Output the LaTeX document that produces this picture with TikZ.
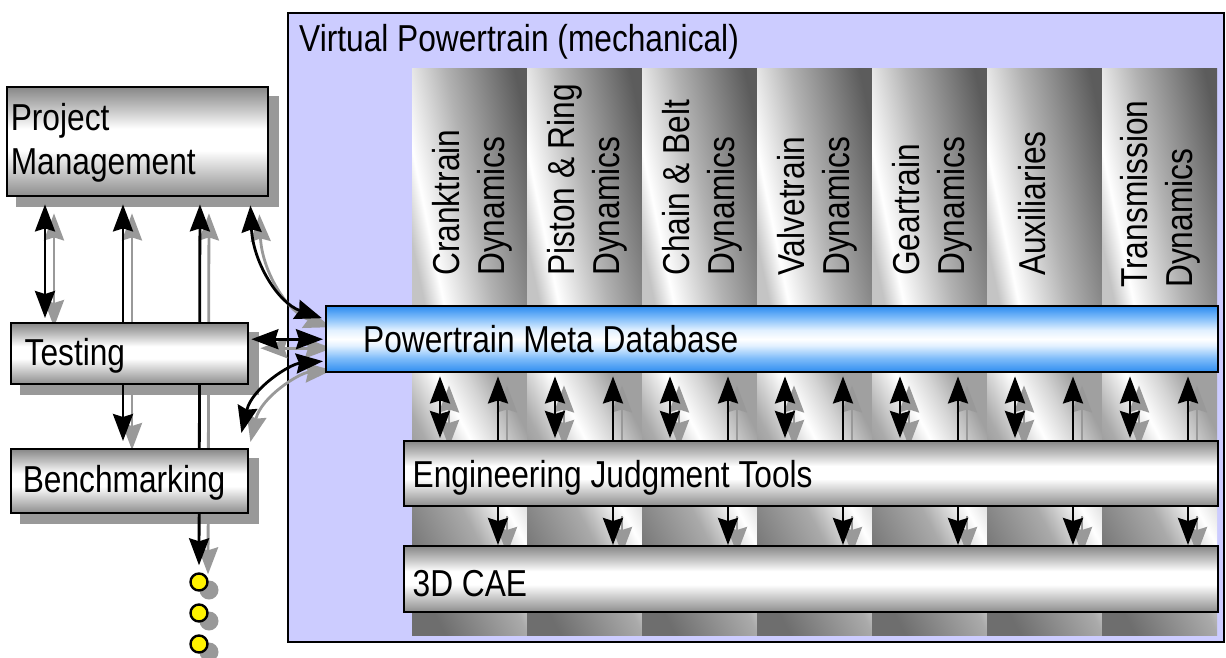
\documentclass[tikz,border=0pt]{standalone}
\usepackage{fontspec}
\setmainfont{Liberation Sans}[FakeStretch=0.845]
\usetikzlibrary{arrows.meta,calc}

% colours
\definecolor{framefill}{RGB}{204,204,255}
\definecolor{shadowgray}{RGB}{153,153,153}
\definecolor{cu0}{RGB}{196,196,196}
\definecolor{cu1}{RGB}{178,178,178}
\definecolor{cu2}{RGB}{92,92,92}
\definecolor{cl0}{RGB}{110,110,110}
\definecolor{cl1}{RGB}{170,170,170}
\definecolor{cl2}{RGB}{212,212,212}
\definecolor{cl3}{RGB}{160,160,160}
\definecolor{bb0}{RGB}{140,140,140}
\definecolor{bb1}{RGB}{190,190,190}
\definecolor{bb2}{RGB}{200,200,200}
\definecolor{bb3}{RGB}{136,136,136}
\definecolor{db0}{RGB}{45,140,240}
\definecolor{db1}{RGB}{130,190,250}
\definecolor{db2}{RGB}{225,240,255}

% column and bar shadings (inner 25bp..75bp spans the shaded box)
\pgfdeclarehorizontalshading{colupper}{100bp}{color(0bp)=(cu0); color(25bp)=(cu0); color(32bp)=(white); color(50bp)=(cu1); color(75bp)=(cu2); color(100bp)=(cu2)}
\pgfdeclarehorizontalshading{collower}{100bp}{color(0bp)=(cl0); color(25bp)=(cl0); color(47bp)=(cl1); color(59bp)=(white); color(67bp)=(cl2); color(75bp)=(cl3); color(100bp)=(cl3)}
\pgfdeclareverticalshading{barshade}{100bp}{color(0bp)=(bb0); color(25bp)=(bb0); color(36bp)=(bb2); color(46bp)=(white); color(56bp)=(white); color(66bp)=(bb1); color(75bp)=(bb3); color(100bp)=(bb3)}
\pgfdeclareverticalshading{dbshade}{100bp}{color(0bp)=(db0); color(25bp)=(db0); color(36bp)=(db1); color(45bp)=(db2); color(50bp)=(white); color(57bp)=(db2); color(66bp)=(db1); color(75bp)=(db0); color(100bp)=(db0)}

\pgfdeclarelayer{bg}
\pgfdeclarelayer{shadow}
\pgfdeclarelayer{links}
\pgfsetlayers{bg,shadow,links,main}

\tikzset{
  txt/.style={font=\fontsize{37.5}{45}\selectfont, inner sep=0pt, anchor=base west},
  vtxt/.style={txt, rotate=90},
  colbox/.style={shade, draw=none, minimum width=115pt, inner sep=0pt, outer sep=0pt, anchor=north west},
  bar/.style={shade, shading=barshade, draw=black, line width=2.4pt, inner sep=0pt, anchor=north west},
  dot/.style={circle, draw=black, fill=yellow, line width=2.4pt, minimum size=17pt, inner sep=0pt},
  link/.style={draw=black, line width=2.8pt},
  lshadow/.style={draw=shadowgray, line width=2.8pt, transform canvas={shift={(9,9)}}},
  both/.style={arrows={Stealth[length=27pt,width=20pt,inset=3pt]-Stealth[length=27pt,width=20pt,inset=3pt]}},
  fwd/.style={arrows={-Stealth[length=27pt,width=20pt,inset=3pt]}},
}

% all connectors, drawn once as shadow and once in black
\newcommand\drawlinks[1]{%
  \draw[#1,both,shorten <=7pt,shorten >=4pt] (pm.south -| xa) -- (test.north -| xa);
  \draw[#1,both,shorten <=7pt,shorten >=7pt] (pm.south -| xb) -- (bench.north -| xb);
  \draw[#1,both,shorten <=7pt,shorten >=7pt] (pm.south -| xc) -- (d1.north);
  \draw[#1,both] ($(pm.south east)+(-19,8)$) .. controls (253,262) and (278,303) .. ($(db.west)+(-3,-21)$);
  \draw[#1,both,shorten <=2pt,shorten >=2pt] (test.east |- db.west) -- (db.west);
  \draw[#1,both] ($(db.west)+(-2,22)$) .. controls (290,364) and (252,388) .. ($(bench.north east)+(-8,-15)$);
  \foreach \k in {0,...,6}{
    \draw[#1,both,shorten <=3pt,shorten >=2pt] (db.south -| pa\k) -- (ejt.north -| pa\k);
    \draw[#1,fwd,shorten >=3pt] (ejt.north -| pb\k) -- (db.south -| pb\k);
    \draw[#1,fwd] (ejt.south -| pb\k) -- (cae.north -| pb\k);
  }%
}

\begin{document}
\begin{tikzpicture}[x=1pt,y=-1pt]
\useasboundingbox (0,0) rectangle (1226,657);

% frame and shaded columns
\begin{pgfonlayer}{bg}
  \node[draw, line width=2.4pt, fill=framefill, minimum width=936pt, minimum height=629pt,
        anchor=north west, inner sep=0pt] (frame) at (287,12) {};
  \foreach \k in {0,...,6}{
    \node[colbox, minimum height=238pt, shading=colupper, shading angle=11.6] (up\k) at (412+115*\k,68) {};
    \node[colbox, minimum height=266pt, shading=collower, shading angle=27.8] (lo\k) at (412+115*\k,369) {};
  }
\end{pgfonlayer}

% boxes
\node[bar, minimum width=261pt, minimum height=109pt] (pm) at (6,86) {};
\node[bar, minimum width=237pt, minimum height=61pt] (test) at (10,322) {};
\node[bar, minimum width=237pt, minimum height=64pt] (bench) at (10,448) {};
\node[bar, shading=dbshade, minimum width=892pt, minimum height=66pt] (db) at (325,305) {};
\node[bar, minimum width=814pt, minimum height=65pt] (ejt) at (403,440) {};
\node[bar, minimum width=814pt, minimum height=66pt] (cae) at (403,545) {};

\node[dot] (d1) at (199,582) {};
\node[dot] (d2) at (199,613) {};
\node[dot] (d3) at (199,644) {};

% connector columns
\coordinate (xa) at (45,0);
\coordinate (xb) at (123,0);
\coordinate (xc) at (200,0);
\foreach \k in {0,...,6}{
  \coordinate (pa\k) at (440+115*\k,0);
  \coordinate (pb\k) at (498+115*\k,0);
}

% drop shadows
\begin{pgfonlayer}{shadow}
  \foreach \n in {pm,test,bench}
    \fill[shadowgray] ($(\n.north west)+(10,10)$) rectangle ($(\n.south east)+(10,10)$);
  \foreach \n in {d1,d2,d3}
    \fill[shadowgray] ($(\n)+(10,8)$) circle[radius=9.5pt];
  \drawlinks{lshadow}
\end{pgfonlayer}

\begin{pgfonlayer}{links}
  \drawlinks{link}
\end{pgfonlayer}

% labels
\node[txt] (title) at (299,51) {Virtual Powertrain (mechanical)};
\node[txt] (pm1) at (10.6,130) {Project};
\node[txt] (pm2) at (10.6,174) {Management};
\node[txt] (testl) at (24.5,365) {Testing};
\node[txt] (benchl) at (22.6,492) {Benchmarking};
\node[txt] (dbl) at (363,352) {Powertrain Meta Database};
\node[txt] (ejtl) at (412.5,487) {Engineering Judgment Tools};
\node[txt] (cael) at (412.5,596) {3D CAE};

\node[vtxt] (c0a) at (459,276) {Cranktrain};
\node[vtxt] (c0b) at (504,276) {Dynamics};
\node[vtxt] (c1a) at (574,276) {Piston \& Ring};
\node[vtxt] (c1b) at (619,276) {Dynamics};
\node[vtxt] (c2a) at (689,276) {Chain \& Belt};
\node[vtxt] (c2b) at (734,276) {Dynamics};
\node[vtxt] (c3a) at (804,276) {Valvetrain};
\node[vtxt] (c3b) at (849,276) {Dynamics};
\node[vtxt] (c4a) at (919,276) {Geartrain};
\node[vtxt] (c4b) at (964,276) {Dynamics};
\node[vtxt] (c5a) at (1045,276) {Auxiliaries};
\node[vtxt] (c6a) at (1147,288) {Transmission};
\node[vtxt] (c6b) at (1192,288) {Dynamics};
\end{tikzpicture}
\end{document}
